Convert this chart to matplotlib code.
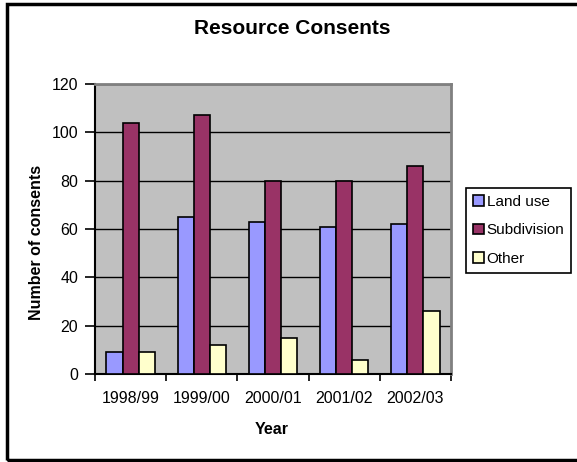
import numpy as np
import matplotlib.pyplot as plt
from matplotlib.patches import Rectangle, Patch

plt.rcParams['font.family'] = ['Liberation Sans', 'DejaVu Sans']

years = ["1998/99", "1999/00", "2000/01", "2001/02", "2002/03"]
land_use = [9, 65, 63, 61, 62]
subdivision = [104, 107, 80, 80, 86]
other = [9, 12, 15, 6, 26]

series = [
    ("Land use", land_use, "#9999FF"),
    ("Subdivision", subdivision, "#993366"),
    ("Other", other, "#FFFFCC"),
]

W, H = 577, 462
fig = plt.figure(figsize=(W / 100, H / 100), dpi=100)
ax = fig.add_axes([95 / W, (H - 374) / H, (451 - 95) / W, (374 - 84) / H])
ax.set_facecolor("#C0C0C0")

x = np.arange(len(years))
bw = 0.227
for i, (name, vals, col) in enumerate(series):
    ax.bar(x + (i - 1) * bw, vals, bw, color=col, edgecolor="black",
           linewidth=1.2, label=name, zorder=3)

ax.set_xlim(-0.5, len(years) - 0.5)
ax.set_ylim(0, 120)
ax.set_yticks(range(0, 121, 20))
ax.yaxis.grid(True, color="black", linewidth=1)
ax.set_axisbelow(True)

ax.set_xticks(x)
ax.set_xticklabels(years)
ax.set_xticks(np.arange(-0.5, len(years), 1), minor=True)
ax.tick_params(axis="x", which="major", length=0, pad=12, labelsize=11.5)
ax.tick_params(axis="x", which="minor", length=5, width=1.2, direction="out")
ax.tick_params(axis="y", length=7, width=1.2, pad=5, labelsize=11.5)

for s in ("left", "bottom"):
    ax.spines[s].set_color("black")
    ax.spines[s].set_linewidth(1.5)
for s in ("top", "right"):
    ax.spines[s].set_color("#808080")
    ax.spines[s].set_linewidth(2)

ax.set_xlabel("Year", fontsize=11.5, fontweight="bold", va="center")
ax.xaxis.set_label_coords(0.497, (374 - 430) / 290)
ax.set_ylabel("Number of consents", fontsize=11.5, fontweight="bold", va="center")
ax.yaxis.set_label_coords((37 - 95) / 356, (374 - 242) / 290)

fig.text(292 / W, 1 - 29 / H, "Resource Consents", fontsize=15,
         fontweight="bold", ha="center", va="center")

handles = [Patch(facecolor=c, edgecolor="black", linewidth=1.2) for _, _, c in series]
leg = fig.legend(handles, [n for n, _, _ in series], loc="upper left",
                 bbox_to_anchor=(466 / W, 1 - 188 / H), borderaxespad=0,
                 fontsize=11, fancybox=False, framealpha=1, edgecolor="black",
                 handlelength=0.7, handleheight=0.7, handletextpad=0.2,
                 labelspacing=0.95, borderpad=0.45)
leg.get_frame().set_linewidth(1.2)

# outer chart border (open on the right)
fig.patches.append(Rectangle((6.5 / W, 1 - 460 / H), 1.0, (460 - 4) / H,
                             transform=fig.transFigure, fill=False,
                             edgecolor="black", linewidth=2.5))

fig.savefig("out.png", dpi=100)
